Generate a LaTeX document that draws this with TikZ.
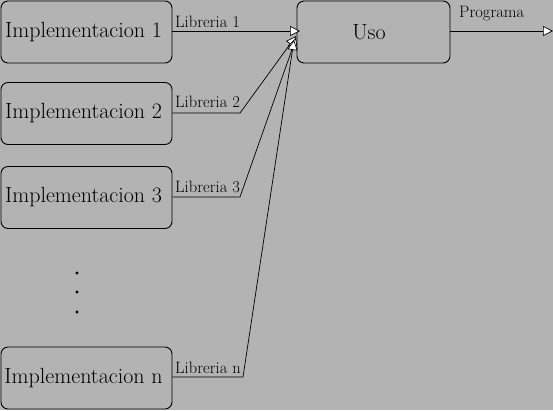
\documentclass[tikz,border=0pt]{standalone}
\usetikzlibrary{arrows.meta}
\begin{document}
\begin{tikzpicture}[x=1pt,y=-1pt,
  box/.style={draw,rounded corners=7pt,line width=0.9pt,inner sep=0pt,font=\fontsize{22}{26}\selectfont},
  lbl/.style={font=\fontsize{16.5}{19}\selectfont,inner sep=0pt,anchor=base west},
  conn/.style={line width=0.7pt,-{Triangle[open,fill=white,length=10pt,width=10pt]}},
  dotc/.style={circle,fill=black,inner sep=0pt,minimum size=3.2pt}]
\fill[fill={rgb,255:red,179;green,179;blue,179}] (0,0) rectangle (553,410);
\useasboundingbox (0,0) rectangle (553,410);
\node[box,minimum width=171pt,minimum height=62pt] (i1) at (86.5,32) {Implementacion 1\hspace*{6pt}};
\node[box,minimum width=171pt,minimum height=62pt] (i2) at (86.5,113.5) {Implementacion 2\hspace*{6pt}};
\node[box,minimum width=171pt,minimum height=62pt] (i3) at (86.5,197.5) {Implementacion 3\hspace*{6pt}};
\node[box,minimum width=171pt,minimum height=62pt] (in) at (86.5,378) {Implementacion n\hspace*{6pt}};
\node[box,minimum width=153pt,minimum height=62pt] (uso) at (373.5,32) {Uso\hspace*{9pt}};
\node[dotc] (d1) at (77,273) {};
\node[dotc] (d2) at (77,292) {};
\node[dotc] (d3) at (77,312) {};
\coordinate (t1) at (300,31);
\coordinate (t2) at (296,36);
\coordinate (t3) at (296,38);
\coordinate (tn) at (294,40);
\coordinate (b2) at (240,113);
\coordinate (b3) at (240,197);
\coordinate (bn) at (243,377);
\coordinate (pend) at (553,31);
\draw[conn] (i1.east |- t1) -- (t1);
\draw[conn] (i2.east |- b2) -- (b2) -- (t2);
\draw[conn] (i3.east |- b3) -- (b3) -- (t3);
\draw[conn] (in.east |- bn) -- (bn) -- (tn);
\draw[conn] (uso.east |- pend) -- (pend);
\node[lbl] (l1) at (175,27) {Libreria 1};
\node[lbl] (l2) at (175,107.5) {Libreria 2};
\node[lbl] (l3) at (175,192) {Libreria 3};
\node[lbl] (ln) at (175,373) {Libreria n};
\node[lbl] (lp) at (459,17) {Programa};
\end{tikzpicture}
\end{document}
